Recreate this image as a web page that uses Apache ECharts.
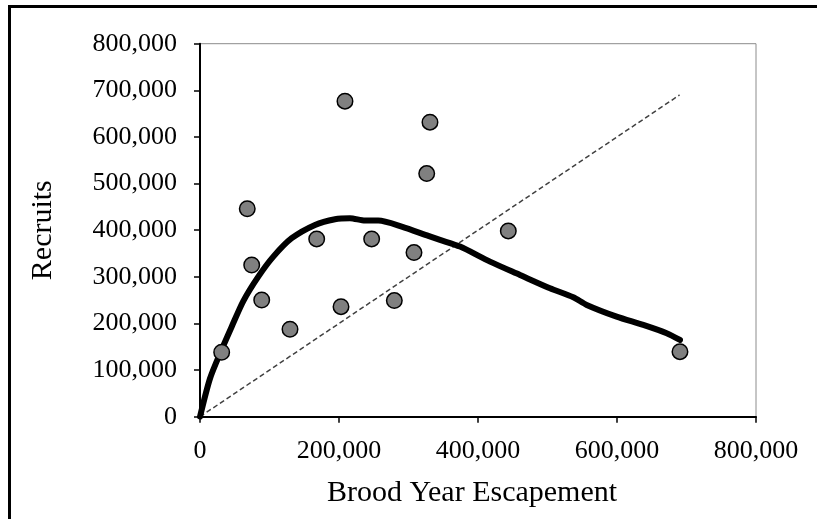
<!DOCTYPE html>
<html>
<head>
<meta charset="utf-8">
<script src="https://cdn.jsdelivr.net/npm/echarts@6/dist/echarts.min.js"></script>
<style>
  html, body { margin: 0; padding: 0; background: #fff; }
  #chart { width: 817px; height: 519px; }
</style>
</head>
<body>
<div id="chart"></div>
<script>
// Observed brood years: escapement vs. recruits
const escapement = [31200, 74400, 88800, 129500, 202900, 279600, 68000, 208600,
                    330900, 326200, 167900, 247000, 307900, 443600, 690600];
const recruits   = [138200, 325500, 250400, 187600, 236000, 249000, 446000, 676800,
                    631700, 521400, 381300, 381300, 352000, 398500, 139500];

// Fitted spawner-recruit curve
const curveX = [0, 14400, 31200, 45600, 62300, 83900, 105500, 131900, 165500, 194200,
                215800, 237400, 256500, 290200, 328500, 345300, 374100, 417300, 460400,
                503600, 537100, 556400, 599500, 637800, 671500, 690600];
const curveY = [0, 82000, 144000, 193100, 248000, 300400, 343300, 382800, 411400, 423600,
                425700, 420600, 420600, 407700, 387800, 379200, 364800, 332600, 304000,
                275500, 256200, 239700, 214600, 196800, 179000, 164600];

// Replacement line (recruits = escapement)
const replacementX = [0, 690000];
const replacementY = [0, 690000];

const axisTicks = [0, 100000, 200000, 300000, 400000, 500000, 600000, 700000, 800000];

const zip = (a, b) => a.map((v, i) => [v, b[i]]);
const fmt = v => Number(v).toLocaleString('en-US');
const FONT = "'Liberation Serif', 'Times New Roman', serif";

const chart = echarts.init(document.getElementById('chart'), null, { renderer: 'canvas' });
chart.setOption({
  backgroundColor: '#ffffff',
  animation: false,
  graphic: [{
    type: 'rect',
    shape: { x: 9.5, y: 6.5, width: 820, height: 530 },
    style: { fill: 'none', stroke: '#000', lineWidth: 3 },
    silent: true
  }],
  grid: {
    left: 200, right: 61, top: 43.7, bottom: 102.3,
    show: true, borderColor: '#8c8c8c', borderWidth: 1, backgroundColor: 'transparent'
  },
  xAxis: {
    type: 'value',
    min: axisTicks[0], max: axisTicks[axisTicks.length - 1], interval: 200000,
    name: 'Brood Year Escapement',
    nameLocation: 'middle',
    nameGap: 61,
    nameTextStyle: { fontFamily: FONT, fontSize: 30, color: '#000', padding: [0, 12, 0, 0] },
    axisLine: { show: true, onZero: false, lineStyle: { color: '#000', width: 2 } },
    axisTick: { show: true, inside: false, length: 6, lineStyle: { color: '#000', width: 1.5 } },
    axisLabel: { fontFamily: FONT, fontSize: 26, color: '#000', margin: 21, formatter: fmt },
    splitLine: { show: false }
  },
  yAxis: {
    type: 'value',
    min: axisTicks[0], max: axisTicks[axisTicks.length - 1], interval: 100000,
    name: 'Recruits',
    nameLocation: 'middle',
    nameGap: 142,
    nameRotate: 90,
    nameTextStyle: { fontFamily: FONT, fontSize: 30, color: '#000' },
    axisLine: { show: true, onZero: false, lineStyle: { color: '#000', width: 2 } },
    axisTick: { show: true, inside: false, length: 6, lineStyle: { color: '#000', width: 1.5 } },
    axisLabel: { fontFamily: FONT, fontSize: 26, color: '#000', margin: 23, formatter: fmt },
    splitLine: { show: false }
  },
  series: [
    {
      name: 'Replacement',
      type: 'line',
      data: zip(replacementX, replacementY),
      showSymbol: false,
      lineStyle: { color: '#404040', width: 1.5, type: [5, 3] },
      z: 2
    },
    {
      name: 'Spawner-recruit curve',
      type: 'line',
      data: zip(curveX, curveY),
      showSymbol: false,
      smooth: 0.25,
      lineStyle: { color: '#000', width: 6, cap: 'round', join: 'round' },
      z: 3
    },
    {
      name: 'Brood years',
      type: 'scatter',
      data: zip(escapement, recruits),
      symbol: 'circle',
      symbolSize: 15.5,
      itemStyle: { color: '#808080', borderColor: '#000', borderWidth: 1.5, opacity: 1 },
      z: 4
    }
  ]
});
</script>
</body>
</html>
